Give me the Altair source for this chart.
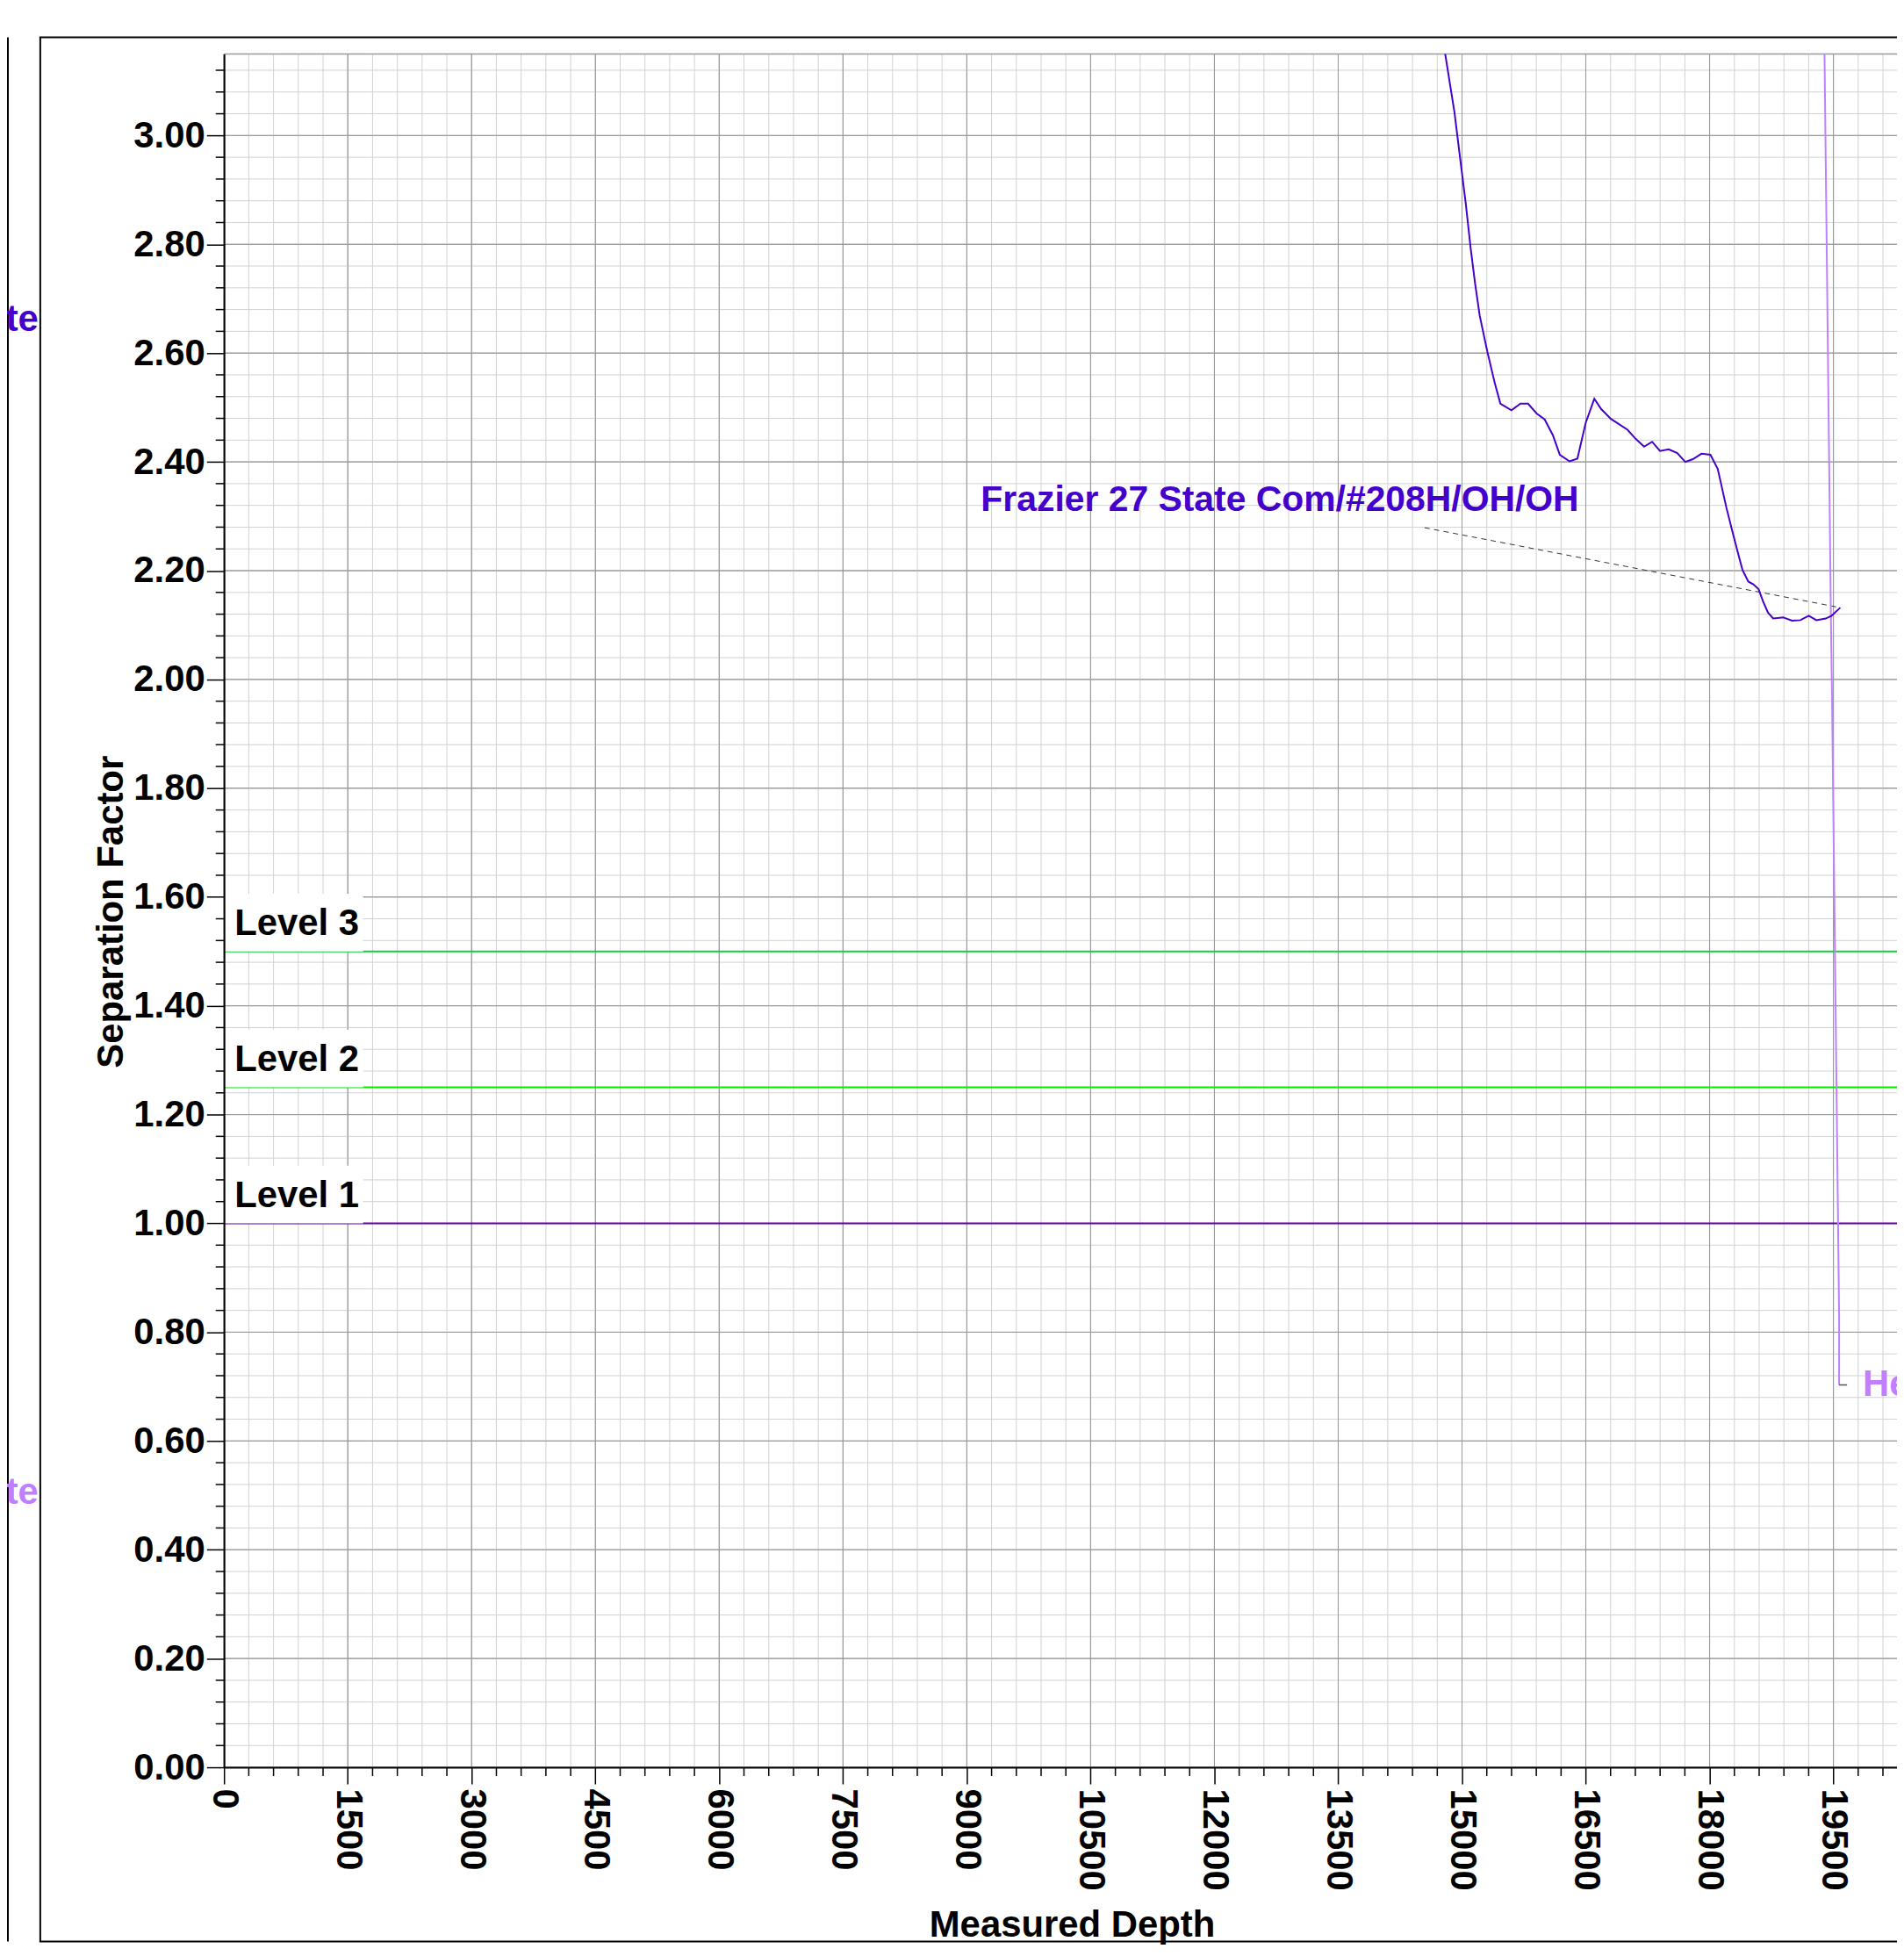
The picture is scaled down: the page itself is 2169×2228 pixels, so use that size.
import altair as alt
import pandas as pd

W, H = 1912, 1958
XMAX, YMAX = 20270, 3.15
FONT = "Liberation Sans"

# ---- data ----
well_md = [14795, 14908, 14992, 15046, 15105, 15159, 15214, 15306, 15398, 15465,
           15599, 15708, 15800, 15904, 16001, 16101, 16185, 16302, 16398, 16499,
           16603, 16687, 16804, 17005, 17106, 17206, 17303, 17399, 17504, 17608,
           17705, 17797, 17901, 18010, 18098, 18203, 18266, 18339, 18399, 18469,
           18530, 18593, 18646, 18706, 18770, 18893, 18999, 19099, 19201, 19293,
           19407, 19477, 19583]
well_sf = [3.151, 3.043, 2.940, 2.874, 2.792, 2.727, 2.669, 2.603, 2.544, 2.507,
           2.495, 2.507, 2.507, 2.489, 2.478, 2.449, 2.413, 2.401, 2.406, 2.472,
           2.516, 2.497, 2.479, 2.459, 2.442, 2.428, 2.437, 2.420, 2.423, 2.416,
           2.400, 2.405, 2.415, 2.413, 2.387, 2.316, 2.278, 2.235, 2.201, 2.180,
           2.175, 2.166, 2.144, 2.123, 2.112, 2.114, 2.108, 2.109, 2.117, 2.109,
           2.112, 2.117, 2.132]
well_name = "Frazier 27 State Com/#208H/OH/OH"
well_label_md, well_label_sf = [9170], [2.310]
well_leader_md, well_leader_sf = [14546], [2.279]

he_md = [19392, 19469, 19484, 19569, 19569]
he_sf = [3.151, 2.120, 1.957, 0.830, 0.703]
he_name = "He"
he_leader_end_md = [19665]
he_label_md = [19855]

level_values = [1.00, 1.25, 1.50]
level_names = ["Level 1", "Level 2", "Level 3"]
level_colors = ["#6000A8", "#00F000", "#10D040"]
level_box = 0.106

x_major = list(range(0, 19501, 1500))
x_minor = [v for v in range(0, XMAX, 300) if v % 1500 != 0]
y_major = [round(i * 0.2, 2) for i in range(16)]
y_minor = [round(i * 0.04, 2) for i in range(79) if i % 5 != 0]
y_top = [YMAX]

DARK = "#4400CC"
LIGHT = "#BF7FFF"

xs = alt.Scale(domain=[0, XMAX], nice=False, zero=False)
ys = alt.Scale(domain=[0, YMAX], nice=False, zero=False)


def X(f, axis=None):
    if axis is None:
        return alt.X(f, type="quantitative", scale=xs)
    return alt.X(f, type="quantitative", scale=xs, axis=axis)


def Y(f, axis=None):
    if axis is None:
        return alt.Y(f, type="quantitative", scale=ys)
    return alt.Y(f, type="quantitative", scale=ys, axis=axis)


xaxis = alt.Axis(values=x_major, format="d", title="Measured Depth", grid=False,
                 tickSize=19, tickWidth=1.5, tickColor="black",
                 domainColor="black", domainWidth=2,
                 labelAngle=90, labelFont=FONT, labelFontWeight="bold",
                 labelFontSize=42, labelColor="black", labelPadding=5,
                 labelFlush=False, labelOverlap=False,
                 titleFont=FONT, titleFontWeight="bold", titleFontSize=42,
                 titleColor="black", titleX=969, titleY=193,
                 titleBaseline="alphabetic", titleAlign="center", zindex=1)
yaxis = alt.Axis(values=y_major, format=".2f", title="Separation Factor", grid=False,
                 tickSize=20, tickWidth=1.5, tickColor="black",
                 domainColor="black", domainWidth=2,
                 labelFont=FONT, labelFontWeight="bold", labelFontSize=42,
                 labelColor="black", labelPadding=2,
                 labelFlush=False, labelOverlap=False,
                 titleFont=FONT, titleFontWeight="bold", titleFontSize=42,
                 titleColor="black", titleX=-116, titleY=980, titleAngle=270,
                 titleBaseline="alphabetic", titleAlign="center", zindex=1)

df_xmaj = pd.DataFrame({"v": x_major})
df_xmin = pd.DataFrame({"v": x_minor})
df_ymaj = pd.DataFrame({"v": y_major})
df_ymin = pd.DataFrame({"v": y_minor})
df_top = pd.DataFrame({"v": y_top})
df_lv = pd.DataFrame({"level": level_values, "name": level_names})
df_lv["top"] = df_lv["level"] + level_box
df_well = pd.DataFrame({"md": well_md, "sf": well_sf})
df_he = pd.DataFrame({"md": he_md, "sf": he_sf, "i": list(range(len(he_md)))})
df_wlab = pd.DataFrame({"md": well_label_md, "sf": well_label_sf, "t": [well_name]})
df_wlead = pd.DataFrame({"x0": well_leader_md, "y0": well_leader_sf,
                         "x1": [well_md[-1]], "y1": [well_sf[-1]]})
df_helead = pd.DataFrame({"x0": [he_md[-1]], "x1": he_leader_end_md, "y": [he_sf[-1]]})
df_helab = pd.DataFrame({"md": he_label_md, "sf": [he_sf[-1]], "t": [he_name]})
one = pd.DataFrame({"a": [0]})

minor_c, major_c = "#d2d2d2", "#9a9a9a"

layers = [
    alt.Chart(df_xmaj).mark_rule(color=major_c, strokeWidth=1).encode(x=X("v", xaxis)),
    alt.Chart(df_ymaj).mark_rule(color=major_c, strokeWidth=1).encode(y=Y("v", yaxis)),
    alt.Chart(df_xmin).mark_rule(color=minor_c, strokeWidth=1).encode(x=X("v")),
    alt.Chart(df_ymin).mark_rule(color=minor_c, strokeWidth=1).encode(y=Y("v")),
    alt.Chart(df_xmaj).mark_rule(color=major_c, strokeWidth=1).encode(x=X("v")),
    alt.Chart(df_ymaj).mark_rule(color=major_c, strokeWidth=1).encode(y=Y("v")),
    alt.Chart(df_top).mark_rule(color=major_c, strokeWidth=1.5).encode(y=Y("v")),
    # level lines
    alt.Chart(df_lv).mark_rule(strokeWidth=2).encode(
        y=Y("level"),
        color=alt.Color("name:N", scale=alt.Scale(domain=level_names, range=level_colors),
                        legend=None)),
    alt.Chart(df_lv).mark_rect(color="white").encode(
        x=alt.value(0), x2=alt.value(159), y=Y("level"), y2="top"),
    alt.Chart(df_lv).mark_text(align="left", baseline="alphabetic", dy=-19,
                               font=FONT, fontWeight="bold", fontSize=42,
                               color="black").encode(
        x=alt.value(12), y=Y("level"), text="name:N"),
    # leader for well label
    alt.Chart(df_wlead).mark_rule(color="#333333", strokeWidth=1,
                                  strokeDash=[6, 5]).encode(
        x=X("x0"), y=Y("y0"), x2="x1", y2="y1"),
    alt.Chart(df_he).mark_line(color=LIGHT, strokeWidth=2, clip=True).encode(
        x=X("md"), y=Y("sf"), order="i:Q"),
    alt.Chart(df_well).mark_line(color=DARK, strokeWidth=2, clip=True).encode(
        x=X("md"), y=Y("sf")),
    alt.Chart(df_wlab).mark_text(align="left", baseline="alphabetic", font=FONT,
                                 fontWeight="bold", fontSize=41, color=DARK).encode(
        x=X("md"), y=Y("sf"), text="t:N"),
    alt.Chart(df_helead).mark_rule(color="#555555", strokeWidth=1.5).encode(
        x=X("x0"), x2="x1", y=Y("y")),
    alt.Chart(df_helab).mark_text(align="left", baseline="middle", font=FONT,
                                  fontWeight="bold", fontSize=42, color=LIGHT).encode(
        x=X("md"), y=Y("sf"), text="t:N"),
    # minor ticks outside the plot
    alt.Chart(df_xmin).mark_rule(color="black", strokeWidth=1.5).encode(
        x=X("v"), y=alt.value(H), y2=alt.value(H + 10)),
    alt.Chart(df_ymin).mark_rule(color="black", strokeWidth=1.5).encode(
        y=Y("v"), x=alt.value(-9.5), x2=alt.value(0)),
    # surrounding frames
    alt.Chart(one).mark_rule(color="black", strokeWidth=2).encode(
        x=alt.value(-210), y=alt.value(-19), y2=alt.value(2157)),
    alt.Chart(one).mark_rule(color="black", strokeWidth=2).encode(
        x=alt.value(-211), x2=alt.value(W + 10), y=alt.value(-19)),
    alt.Chart(one).mark_rule(color="black", strokeWidth=2).encode(
        x=alt.value(-211), x2=alt.value(W + 10), y=alt.value(2157)),
    alt.Chart(one).mark_rule(color="black", strokeWidth=2).encode(
        x=alt.value(-247), y=alt.value(-19), y2=alt.value(2157)),
    # clipped labels of the neighbouring panel
    alt.Chart(one).mark_text(align="right", baseline="alphabetic", font=FONT,
                             fontWeight="bold", fontSize=42, color=DARK,
                             text="Frazier 27 State").encode(
        x=alt.value(-212), y=alt.value(317)),
    alt.Chart(one).mark_text(align="right", baseline="alphabetic", font=FONT,
                             fontWeight="bold", fontSize=42, color=LIGHT,
                             text="Frazier 27 State").encode(
        x=alt.value(-212), y=alt.value(1657)),
]

chart = alt.layer(*layers).properties(
    width=W, height=H,
    autosize=alt.AutoSizeParams(type="none"),
    padding={"left": 248, "top": 50, "right": 0, "bottom": 200},
    background="white",
).configure_view(stroke=None)

chart.save("out.html", embed_options={"renderer": "svg", "actions": False})
